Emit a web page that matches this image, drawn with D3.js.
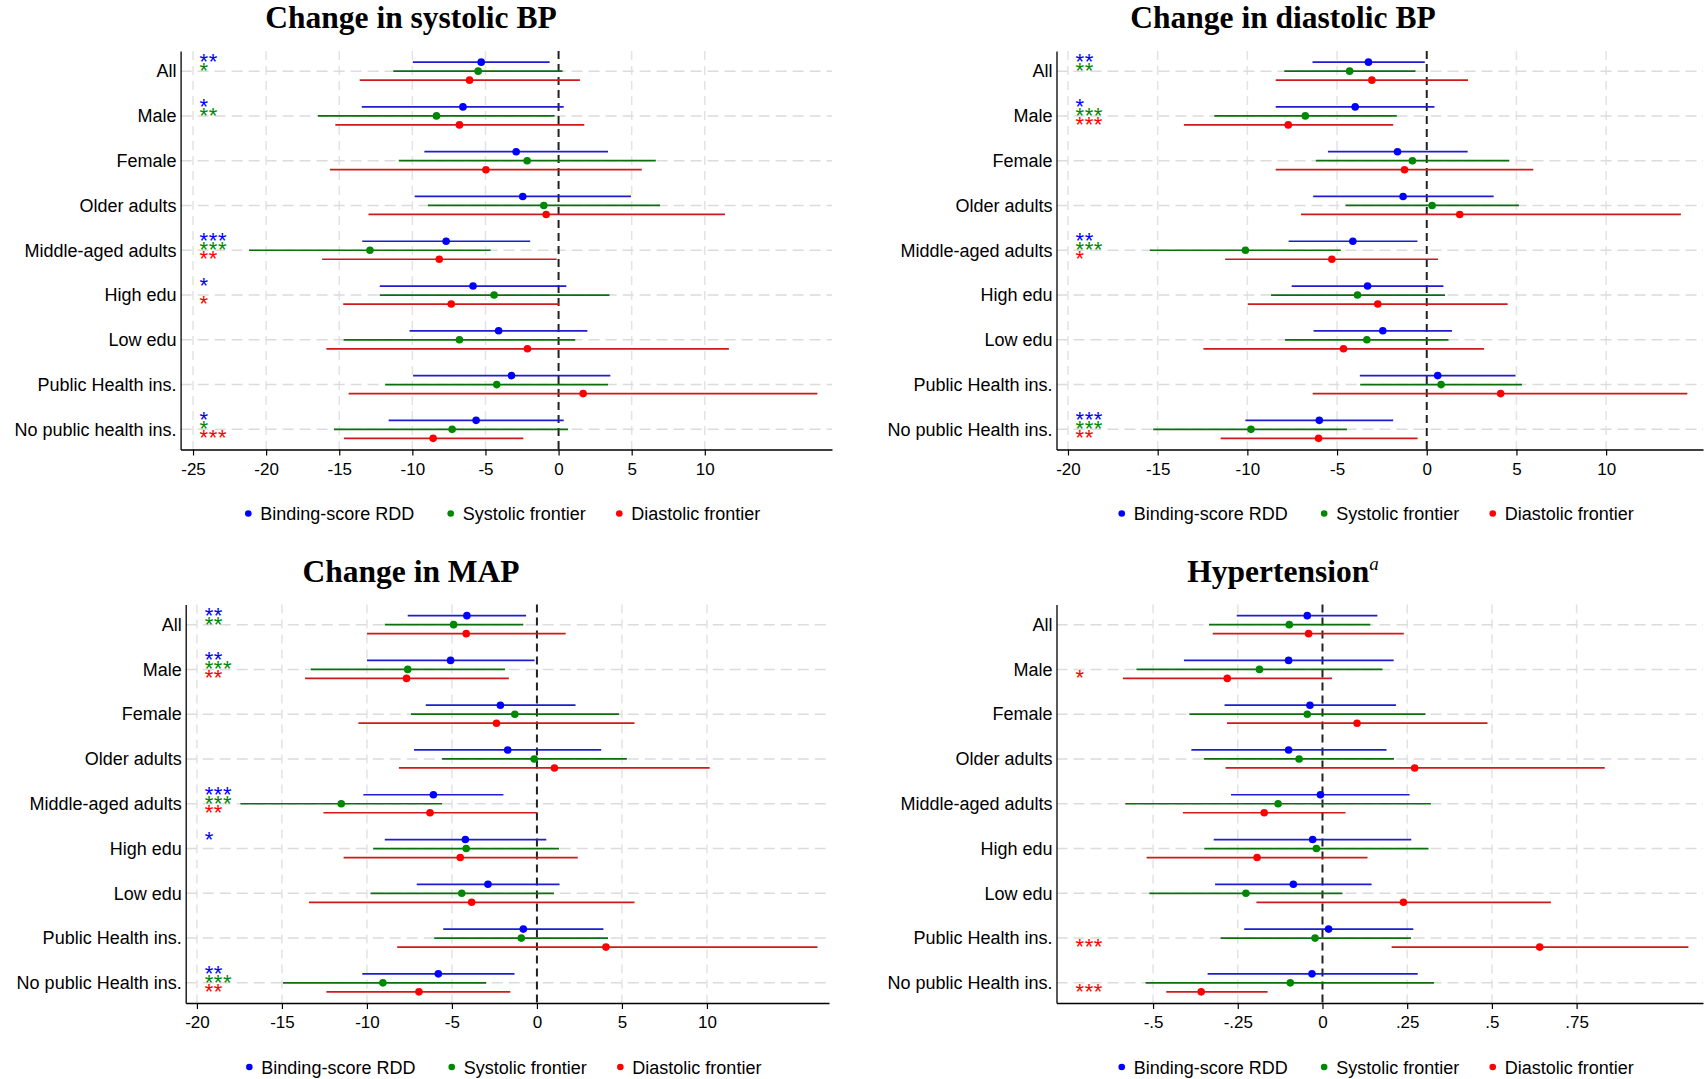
<!DOCTYPE html>
<html>
<head>
<meta charset="utf-8">
<script src="https://cdnjs.cloudflare.com/ajax/libs/d3/7.8.5/d3.min.js"></script>
<style>
body { margin: 0; background: #fff; }
text { font-family: "Liberation Sans", Arial, sans-serif; fill: #000; }
.title { font-family: "Liberation Serif", "Times New Roman", serif; font-weight: bold; }
</style>
</head>
<body>
<div id="main"></div>
<script>
// categories (two spellings as in the figure)
var catsA = ["All", "Male", "Female", "Older adults", "Middle-aged adults", "High edu", "Low edu", "Public Health ins.", "No public health ins."];
var catsB = ["All", "Male", "Female", "Older adults", "Middle-aged adults", "High edu", "Low edu", "Public Health ins.", "No public Health ins."];
var legendLabels = ["Binding-score RDD", "Systolic frontier", "Diastolic frontier"];

// [lower, estimate, upper] per category
var sbpRdd = [[-9.97,-5.29,-0.61],[-13.46,-6.54,0.35],[-9.18,-2.9,3.38],[-9.84,-2.45,4.95],[-13.43,-7.69,-1.94],[-12.23,-5.85,0.53],[-10.19,-4.1,1.97],[-9.95,-3.22,3.54],[-11.62,-5.64,0.35]];
var sbpSys = [[-11.3,-5.5,0.27],[-16.46,-8.35,-0.27],[-10.93,-2.15,6.65],[-8.94,-1.01,6.94],[-21.17,-12.9,-4.65],[-12.23,-4.41,3.48],[-14.7,-6.78,1.14],[-11.86,-4.23,3.38],[-15.36,-7.28,0.65]];
var sbpDia = [[-13.6,-6.09,1.46],[-15.27,-6.78,1.76],[-15.64,-4.97,5.69],[-13.0,-0.85,11.38],[-16.17,-8.16,-0.13],[-14.73,-7.34,0.03],[-15.88,-2.13,11.65],[-14.36,1.68,17.7],[-14.68,-8.58,-2.41]];
var sbpStars = [["**","*","","","***","*","","","*"], ["*","**","","","***","","","","*"], ["","","","","**","*","","","***"]];

var dbpRdd = [[-6.37,-3.25,-0.11],[-8.42,-3.99,0.43],[-5.51,-1.63,2.28],[-6.33,-1.32,3.73],[-7.7,-4.12,-0.52],[-7.53,-3.3,0.93],[-6.31,-2.45,1.41],[-3.73,0.61,4.95],[-10.11,-5.99,-1.87]];
var dbpSys = [[-7.94,-4.3,-0.63],[-11.84,-6.77,-1.67],[-6.18,-0.8,4.6],[-4.53,0.3,5.14],[-15.44,-10.11,-4.79],[-8.68,-3.86,1.02],[-7.9,-3.34,1.21],[-3.71,0.8,5.31],[-15.25,-9.8,-4.45]];
var dbpDia = [[-8.42,-3.06,2.3],[-13.54,-7.72,-1.87],[-8.42,-1.24,5.94],[-7.01,1.84,14.17],[-11.24,-5.29,0.63],[-9.98,-2.73,4.51],[-12.45,-4.64,3.19],[-6.36,4.12,14.53],[-11.49,-6.03,-0.51]];
var dbpStars = [["**","*","","","**","","","","***"], ["**","***","","","***","","","","***"], ["","***","","","*","","","","**"]];

var mapRdd = [[-7.6,-4.12,-0.64],[-10.0,-5.08,-0.14],[-6.54,-2.15,2.27],[-7.23,-1.72,3.78],[-10.21,-6.09,-1.97],[-8.95,-4.21,0.55],[-7.07,-2.88,1.33],[-5.51,-0.8,3.91],[-10.27,-5.8,-1.32]];
var mapSys = [[-8.95,-4.9,-0.8],[-13.3,-7.6,-1.88],[-7.41,-1.3,4.83],[-5.58,-0.16,5.29],[-17.44,-11.51,-5.58],[-9.63,-4.16,1.3],[-9.79,-4.42,1.0],[-6.04,-0.92,4.18],[-14.94,-9.06,-2.98]];
var mapDia = [[-10.0,-4.16,1.69],[-13.64,-7.67,-1.65],[-10.5,-2.38,5.74],[-8.12,1.03,10.16],[-12.56,-6.29,0.0],[-11.37,-4.51,2.4],[-13.41,-3.84,5.74],[-8.22,4.06,16.5],[-12.38,-6.94,-1.57]];
var mapStars = [["**","**","","","***","*","","","**"], ["**","***","","","***","","","","***"], ["","**","","","**","","","","**"]];

var htnRdd = [[-0.253,-0.045,0.162],[-0.409,-0.1,0.21],[-0.289,-0.037,0.217],[-0.387,-0.1,0.189],[-0.27,-0.006,0.257],[-0.321,-0.029,0.262],[-0.317,-0.086,0.145],[-0.231,0.018,0.268],[-0.339,-0.031,0.281]];
var htnSys = [[-0.335,-0.098,0.141],[-0.549,-0.186,0.177],[-0.393,-0.045,0.304],[-0.35,-0.069,0.211],[-0.582,-0.131,0.32],[-0.349,-0.018,0.313],[-0.511,-0.226,0.059],[-0.301,-0.022,0.261],[-0.522,-0.095,0.329]];
var htnDia = [[-0.324,-0.041,0.24],[-0.589,-0.281,0.028],[-0.282,0.102,0.487],[-0.286,0.272,0.833],[-0.412,-0.172,0.068],[-0.519,-0.193,0.133],[-0.195,0.239,0.674],[0.204,0.641,1.08],[-0.461,-0.358,-0.162]];
var htnStars = [["","","","","","","","",""], ["","","","","","","","",""], ["","*","","","","","","***","***"]];

// tick labels
var bpTicks = [-25, -20, -15, -10, -5, 0, 5, 10];
var bp2Ticks = [-20, -15, -10, -5, 0, 5, 10];
var htnTicks = [-0.5, -0.25, 0, 0.25, 0.5, 0.75];

var lineColors = ["#1d1dd2", "#0c6e0c", "#d01a1a"];
var dotColors = ["#0000ff", "#008800", "#ff0000"];

var W = 1706, H = 1079;
var plotTop = 51, plotBottom = 449.5; // per panel row
var sub = 9; // vertical offset between the three estimates

var svg = d3.select("#main").append("svg")
    .attr("width", W)
    .attr("height", H);

svg.append("rect").attr("width", W).attr("height", H).attr("fill", "#fff");

var noLead = function(v){ //Stata style: -.5, .25
  if (v === 0) return "0";
  return String(v).replace("0.", ".");
}

var panels = [
  {title: "Change in systolic BP", cats: catsA, series: [sbpRdd, sbpSys, sbpDia], stars: sbpStars,
   domain: [-25.85, 18.7], ticks: bpTicks, fmt: String, left: 180.6, right: 832, dy: 0, tx: 411},
  {title: "Change in diastolic BP", cats: catsB, series: [dbpRdd, dbpSys, dbpDia], stars: dbpStars,
   domain: [-20.64, 15.4], ticks: bp2Ticks, fmt: String, left: 1056.5, right: 1703, dy: 0, tx: 1283},
  {title: "Change in MAP", cats: catsB, series: [mapRdd, mapSys, mapDia], stars: mapStars,
   domain: [-20.66, 17.18], ticks: bp2Ticks, fmt: String, left: 185.7, right: 829, dy: 553.5, tx: 411},
  {title: "Hypertension", sup: "a", cats: catsB, series: [htnRdd, htnSys, htnDia], stars: htnStars,
   domain: [-0.785, 1.123], ticks: htnTicks, fmt: noLead, left: 1056.5, right: 1703, dy: 553.5, tx: 1283}
];

var drawPanel = function(p){
  var g = svg.append("g").attr("transform", "translate(0," + p.dy + ")");

  var x = d3.scaleLinear().domain(p.domain).range([p.left, p.right]);
  var y = d3.scalePoint().domain(p.cats).range([plotTop, plotBottom]).padding(0.45);

  // grid
  g.selectAll(".vgrid").data(p.ticks.filter(function(t){ return t !== 0; }))
    .enter().append("line")
    .attr("x1", function(d){ return x(d); }).attr("x2", function(d){ return x(d); })
    .attr("y1", plotTop).attr("y2", plotBottom)
    .attr("stroke", "#e3e3e3").attr("stroke-width", 1.5).attr("stroke-dasharray", "9,6");

  g.selectAll(".hgrid").data(p.cats)
    .enter().append("line")
    .attr("x1", p.left).attr("x2", p.right)
    .attr("y1", function(d){ return y(d); }).attr("y2", function(d){ return y(d); })
    .attr("stroke", "#dcdcdc").attr("stroke-width", 1.5).attr("stroke-dasharray", "11,6");

  // zero reference
  g.append("line")
    .attr("x1", x(0)).attr("x2", x(0))
    .attr("y1", plotTop).attr("y2", plotBottom)
    .attr("stroke", "#222").attr("stroke-width", 2).attr("stroke-dasharray", "8,5");

  // axes
  var xAxis = d3.axisBottom(x).tickValues(p.ticks).tickFormat(p.fmt)
      .tickSize(6).tickSizeOuter(0).tickPadding(7);
  var ax = g.append("g").attr("transform", "translate(0," + plotBottom + ")").call(xAxis);
  ax.selectAll("text").style("font-size", "17px").style("font-family", "Liberation Sans, Arial, sans-serif");

  var yAxis = d3.axisLeft(y).tickSize(0).tickSizeOuter(0).tickPadding(4);
  var ay = g.append("g").attr("transform", "translate(" + p.left + ",0)").call(yAxis);
  ay.selectAll("text").style("font-size", "18px").style("font-family", "Liberation Sans, Arial, sans-serif");

  g.selectAll(".domain").attr("stroke", "#000").attr("stroke-width", 1.3);
  g.selectAll(".tick line").attr("stroke", "#000").attr("stroke-width", 1.2);

  // estimates with confidence intervals
  p.series.forEach(function(s, k){
    var off = (k - 1) * sub;
    var sg = g.append("g").attr("class", "series");
    sg.selectAll("line").data(s).enter().append("line")
      .attr("x1", function(d){ return x(d[0]); })
      .attr("x2", function(d){ return x(d[2]); })
      .attr("y1", function(d, i){ return y(p.cats[i]) + off; })
      .attr("y2", function(d, i){ return y(p.cats[i]) + off; })
      .attr("stroke", lineColors[k]).attr("stroke-width", 1.7);
    sg.selectAll("circle").data(s).enter().append("circle")
      .attr("cx", function(d){ return x(d[1]); })
      .attr("cy", function(d, i){ return y(p.cats[i]) + off; })
      .attr("r", 3.8)
      .attr("fill", dotColors[k]);
  });

  // significance stars: one text per category, a tspan per estimate
  p.cats.forEach(function(c, i){
    var marks = [0, 1, 2].filter(function(k){ return p.stars[k][i] !== ""; });
    if (!marks.length) return;
    var st = g.append("text")
      .style("font-size", "22px")
      .style("letter-spacing", "0.6px");
    marks.forEach(function(k){
      st.append("tspan")
        .attr("x", p.left + 19)
        .attr("y", y(c) + (k - 1) * sub + 7)
        .style("fill", dotColors[k])
        .text(p.stars[k][i]);
    });
  });

  // legend
  var cx = (p.left + p.right) / 2;
  var legX = [cx - 258, cx - 55.6, cx + 113];
  var lg = g.selectAll(".leg").data(legendLabels).enter().append("g");
  lg.append("circle")
    .attr("cx", function(d, i){ return legX[i]; })
    .attr("cy", 513.5)
    .attr("r", 3.3)
    .attr("fill", function(d, i){ return dotColors[i]; });
  lg.append("text")
    .attr("x", function(d, i){ return legX[i] + 12; })
    .attr("y", 520)
    .style("font-size", "18px")
    .text(function(d){ return d; });

  // title
  var t = g.append("text").attr("class", "title")
    .attr("x", p.tx).attr("y", 28)
    .attr("text-anchor", "middle")
    .style("font-size", "31.5px")
    .text(p.title);
  if (p.sup) {
    t.append("tspan").attr("dy", -12).style("font-size", "19px")
      .style("font-style", "italic").style("font-weight", "normal").text(p.sup);
  }
}

panels.forEach(drawPanel);
</script>
</body>
</html>
